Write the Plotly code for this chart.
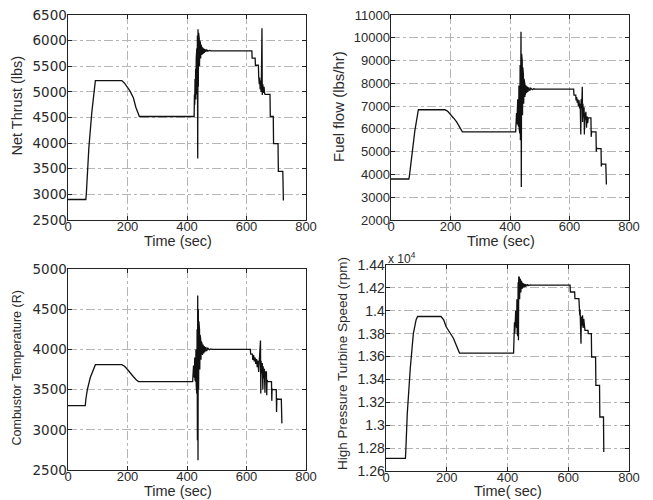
import plotly.graph_objects as go

# ---------------- data ----------------
thrust_t = [0, 60, 62, 70, 80, 92, 181, 190, 200, 210, 220, 228, 240, 424,
            425, 426, 427, 428, 429, 430, 431, 432, 433, 434, 435, 436, 437, 438,
            439, 440, 441, 442, 443, 444, 445, 446, 447, 448, 449, 450, 452, 454,
            456, 458, 460, 463, 466, 470, 475, 480,
            618, 619, 629, 630, 640, 641, 643, 644, 646, 647, 649, 650, 652, 653,
            655, 657, 659, 661, 663, 679, 680, 690, 691, 706, 707, 722, 724]
thrust_v = [2900, 2900, 3050, 3900, 4600, 5220, 5220, 5170, 5090, 5000, 4880, 4700, 4520, 4520,
            4950, 4750, 5250, 4850, 5450, 4950, 5650, 4900, 5850, 4850, 6100, 3700, 6220, 5100,
            6150, 5350, 6050, 5500, 6000, 5600, 5960, 5650, 5920, 5690, 5890, 5720, 5870, 5740,
            5850, 5760, 5835, 5780, 5825, 5795, 5808, 5800,
            5800, 5660, 5660, 5520, 5520, 5300, 5150, 5280, 5050, 5220, 5000, 5180, 6240, 4940,
            5150, 4980, 5100, 4960, 4950, 4950, 4520, 4520, 3990, 3990, 3450, 3450, 2880]

fuel_t = [0, 60, 62, 70, 80, 92, 181, 190, 200, 210, 220, 230, 240, 419,
          420, 421, 422, 423, 424, 425, 426, 427, 428, 429, 430, 431, 432, 433,
          434, 435, 436, 437, 438, 439, 440, 441, 442, 443, 444, 445, 446, 447,
          448, 449, 450, 451, 452, 454, 456, 458, 460, 463, 466, 470, 475, 480, 485,
          614, 615, 621, 622, 624, 626, 628, 630, 632, 634, 636, 638, 639, 641,
          643, 644, 645, 647, 649, 650, 651, 653, 655, 657, 659, 661, 663, 672,
          673, 674, 676, 689, 690, 691, 693, 706, 707, 708, 710, 722, 724]
fuel_v = [3800, 3800, 3950, 4900, 5900, 6840, 6840, 6780, 6650, 6480, 6320, 6080, 5870, 5870,
          6300, 6100, 6700, 6200, 7000, 6300, 7300, 6200, 7600, 6100, 7900, 6000, 8300, 5800,
          8800, 5500, 9500, 10270, 3450, 9300, 6300, 9000, 6600, 8700, 6900, 8400, 7100, 8200,
          7300, 8050, 7400, 7950, 7500, 7900, 7580, 7860, 7630, 7820, 7680, 7790, 7720, 7760, 7750,
          7750, 7480, 7480, 7250, 7400, 7150, 7300, 7000, 7250, 6900, 7100, 5750, 7300, 6900,
          7850, 6300, 7100, 6500, 6950, 5750, 6700, 6400, 6750, 6050, 6550, 6250, 6480, 6480,
          5650, 5900, 5870, 5870, 5000, 5180, 5130, 5130, 4350, 4480, 4450, 4450, 3560]

temp_t = [0, 58, 60, 65, 75, 85, 92, 181, 190, 200, 210, 220, 230, 237, 419,
          420, 421, 422, 423, 424, 425, 426, 427, 428, 429, 430, 431, 432, 433,
          434, 435, 436, 437, 438, 439, 440, 441, 442, 443, 444, 445, 446, 447,
          448, 449, 450, 452, 454, 456, 458, 460, 463, 466, 470, 475, 480, 485,
          613, 614, 620, 621, 624, 626, 629, 631, 634, 636, 638, 641, 644, 647,
          648, 649, 651, 653, 655, 656, 658, 660, 662, 663, 667, 668, 669, 671,
          684, 685, 686, 688, 700, 701, 702, 704, 717, 719]
temp_v = [3300, 3300, 3380, 3500, 3650, 3760, 3810, 3810, 3790, 3750, 3700, 3660, 3620, 3600, 3600,
          3700, 3650, 3800, 3680, 3850, 3650, 3900, 3620, 3950, 3600, 4000, 3550, 4100, 3450,
          4250, 2870, 4670, 2620, 4500, 3500, 4350, 3650, 4250, 3750, 4180, 3820, 4130, 3870,
          4100, 3900, 4080, 3930, 4060, 3950, 4040, 3965, 4030, 3980, 4015, 3995, 4005, 4000,
          4000, 3940, 3940, 3870, 3930, 3850, 3900, 3820, 3880, 3780, 3860, 3720, 3880, 4110,
          3450, 3860, 3700, 3830, 3500, 3790, 3640, 3760, 3460, 3720, 3720, 3430, 3620, 3600,
          3600, 3360, 3510, 3500, 3500, 3220, 3390, 3380, 3380, 3080]

speed_t = [0, 64, 66, 70, 80, 90, 99, 104, 181, 190, 198, 206, 214, 222, 231, 242, 420,
           421, 422, 423, 424, 425, 426, 427, 428, 429, 430, 431, 432, 433, 434,
           435, 436, 437, 438, 439, 440, 441, 442, 443, 444, 445, 446, 447, 448,
           449, 450, 452, 454, 456, 458, 460, 463, 466, 470, 475, 480,
           606, 607, 621, 622, 635, 636, 638, 639, 640, 641, 642, 643, 645, 647,
           649, 651, 653, 655, 665, 666, 676, 677, 690, 691, 703, 704, 716, 717]
speed_v = [12710, 12710, 12830, 13100, 13500, 13800, 13920, 13950, 13950, 13920, 13860, 13830,
           13800, 13760, 13700, 13630, 13630,
           13800, 13750, 13900, 13800, 13950, 13850, 14000, 13900, 14050, 13850, 14100, 13800,
           14150, 13780, 14250, 13742, 14300, 14050, 14290, 14100, 14280, 14140, 14270, 14160,
           14260, 14180, 14250, 14190, 14245, 14200, 14240, 14205, 14235, 14210, 14232, 14215,
           14228, 14220, 14226, 14224,
           14224, 14164, 14164, 14106, 14106, 14004, 13960, 14010, 13900, 13990, 13712, 13950,
           13870, 13960, 13850, 13930, 13860, 13829, 13829, 13800, 13800, 13596, 13596, 13349,
           13349, 13072, 13072, 12766]

x_ticks = [0, 200, 400, 600, 800]
speed_tickvals = [12600, 12800, 13000, 13200, 13400, 13600, 13800, 14000, 14200, 14400]
speed_ticktext = ['1.26', '1.28', '1.3', '1.32', '1.34', '1.36', '1.38', '1.4', '1.42', '1.44']

titles_y = ['Net Thrust (lbs)', 'Fuel flow (lbs/hr)', 'Combustor Temperature (R)',
            'High Pressure Turbine Speed (rpm)']
titles_x = ['Time (sec)', 'Time (sec)', 'Time (sec)', 'Time( sec)']

# ---------------- figure ----------------
FONT = 'Liberation Sans, Arial, sans-serif'
WIDE = 'DejaVu Sans, Verdana, sans-serif'
TXT = '#2a2a2a'
W, H = 653, 500

fig = go.Figure()
series = [(thrust_t, thrust_v), (fuel_t, fuel_v), (temp_t, temp_v), (speed_t, speed_v)]
for i, (t, v) in enumerate(series):
    sfx = '' if i == 0 else str(i + 1)
    fig.add_trace(go.Scatter(x=t, y=v, mode='lines', xaxis='x' + sfx, yaxis='y' + sfx,
                             line=dict(color='#111', width=1.3), showlegend=False,
                             hoverinfo='skip'))

xdom = [[68 / W, 306 / W], [391 / W, 629 / W], [68 / W, 306 / W], [386 / W, 629 / W]]
ydom = [[1 - 220 / H, 1 - 15 / H], [1 - 220 / H, 1 - 15 / H],
        [1 - 470 / H, 1 - 269 / H], [1 - 471 / H, 1 - 265 / H]]
yranges = [[2500, 6500], [2000, 11000], [2500, 5000], [12600, 14400]]
ydticks = [500, 1000, 500, None]
ytickfonts = [dict(family=WIDE, size=13.5, color=TXT), dict(family=FONT, size=13, color=TXT),
              dict(family=WIDE, size=13.5, color=TXT), dict(family=FONT, size=14, color=TXT)]

# title placements (pixel centres) and sizes
ytitle_pos = [(16.5, 106), (339, 107), (16.5, 368), (342, 363)]
ytitle_size = [14.5, 15, 12.5, 13.5]
xtitle_pos = [(178, 241), (501, 241), (178, 491), (508, 491)]

common = dict(showline=True, linecolor='#222', linewidth=1.4, mirror='ticks',
              ticks='inside', ticklen=4, tickcolor='#222',
              showgrid=True, gridcolor='#b5b5b5', gridwidth=1, griddash='dashdot',
              zeroline=False, automargin=False)

layout = {}
for i in range(4):
    sfx = '' if i == 0 else str(i + 1)
    xa = dict(common, domain=xdom[i], range=[0, 800], tickmode='array', tickvals=x_ticks,
              anchor='y' + sfx, ticklabelstandoff=-6,
              tickfont=dict(family=FONT, size=13, color=TXT))
    ya = dict(common, domain=ydom[i], range=yranges[i], anchor='x' + sfx,
              ticklabelstandoff=-3, tickfont=ytickfonts[i])
    if ydticks[i]:
        ya.update(tickmode='linear', tick0=yranges[i][0], dtick=ydticks[i], tickformat='d')
    else:
        ya.update(tickmode='array', tickvals=speed_tickvals, ticktext=speed_ticktext)
    layout['xaxis' + sfx] = xa
    layout['yaxis' + sfx] = ya

fig.update_layout(**layout)
fig.update_layout(width=W, height=H, margin=dict(l=0, r=0, t=0, b=0, autoexpand=False),
                  paper_bgcolor='white', plot_bgcolor='white',
                  font=dict(family=FONT, color=TXT))

for i in range(4):
    px, py = ytitle_pos[i]
    fig.add_annotation(text=titles_y[i], xref='paper', yref='paper', x=px / W, y=1 - py / H,
                       xanchor='center', yanchor='middle', textangle=-90, showarrow=False,
                       font=dict(family=FONT, size=ytitle_size[i], color=TXT))
    qx, qy = xtitle_pos[i]
    fig.add_annotation(text=titles_x[i], xref='paper', yref='paper', x=qx / W, y=1 - qy / H,
                       xanchor='center', yanchor='middle', showarrow=False,
                       font=dict(family=FONT, size=14.5, color=TXT))

fig.add_annotation(text='x 10<sup>4</sup>', xref='x4 domain', yref='y4 domain', x=0.0, y=1.0,
                   xanchor='left', yanchor='bottom', showarrow=False,
                   font=dict(family=FONT, size=12, color=TXT), yshift=-3)

fig.write_html('out.html', config={'displayModeBar': False, 'staticPlot': True},
               post_script="document.body.style.margin='0px';document.body.style.overflow='hidden';")
